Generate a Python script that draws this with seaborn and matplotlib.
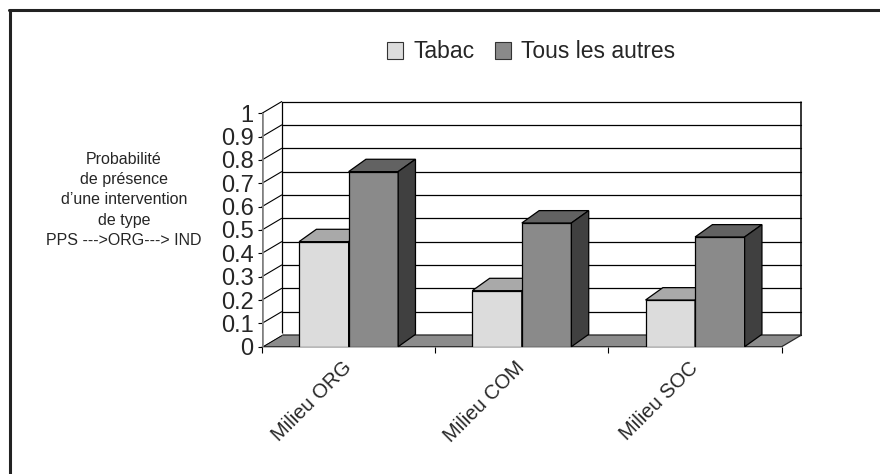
import matplotlib
matplotlib.use("Agg")
import matplotlib.pyplot as plt
from matplotlib.patches import Polygon, Patch
from matplotlib.lines import Line2D
import pandas as pd
import seaborn as sns

# ---- data -------------------------------------------------------------
categories = ["Milieu ORG", "Milieu COM", "Milieu SOC"]
series_names = ["Tabac", "Tous les autres"]
tabac = [0.45, 0.24, 0.20]
autres = [0.75, 0.53, 0.47]
y_ticks = [0, 0.1, 0.2, 0.3, 0.4, 0.5, 0.6, 0.7, 0.8, 0.9, 1.0]
y_tick_labels = ["0", "0.1", "0.2", "0.3", "0.4", "0.5", "0.6", "0.7", "0.8", "0.9", "1"]
y_label = "Probabilité\nde présence\nd’une intervention\nde type\nPPS --->ORG---> IND"

# ---- style ------------------------------------------------------------
sns.set_style("white")
plt.rcParams["font.family"] = ["Liberation Sans", "DejaVu Sans"]

front_colors = {"Tabac": "#dcdcdc", "Tous les autres": "#8a8a8a"}
top_colors = {"Tabac": "#a9a9a9", "Tous les autres": "#626262"}
side_colors = {"Tabac": "#b4b4b4", "Tous les autres": "#404040"}

W, H = 880, 474
fig = plt.figure(figsize=(W / 100, H / 100), dpi=100)
fig.patch.set_facecolor("white")

# plot area in pixels: front plane 262..781.7 / 346.7..113.3, back wall offset
x0p, x1p = 262.0, 801.4
y0p, y1p = 346.7, 101.6
ax = fig.add_axes([x0p / W, 1 - y0p / H, (x1p - x0p) / W, (y0p - y1p) / H])

df = pd.DataFrame({
    "Milieu": categories * 2,
    "Série": [series_names[0]] * len(categories) + [series_names[1]] * len(categories),
    "Valeur": tabac + autres,
})

sns.barplot(data=df, x="Milieu", y="Valeur", hue="Série", hue_order=series_names,
            palette=front_colors, width=0.572, edgecolor="black", linewidth=0.9,
            saturation=1, errorbar=None, legend=False, ax=ax)

# depth of the walls and of the columns (data units)
DXW, DYW = 0.1137, 0.050
DXB, DYB = 0.100, 0.053
xl, xr = -0.5, len(categories) - 0.5

ax.set_xlim(xl, xr + DXW)
ax.set_ylim(0, 1 + DYW)

# floor
ax.add_patch(Polygon([(xl, 0), (xr, 0), (xr + DXW, DYW), (xl + DXW, DYW)], closed=True,
                     facecolor="#8c8c8c", edgecolor="#2a2a2a", linewidth=0.9, zorder=1,
                     clip_on=False))

# back wall gridlines and side-wall diagonals
for v in y_ticks:
    ax.plot([xl + DXW, xr + DXW], [v + DYW, v + DYW], color="black", lw=0.9,
            zorder=0.5, clip_on=False)
    if v > 0:
        ax.plot([xl, xl + DXW], [v, v + DYW], color="black", lw=0.8, zorder=0.6,
                clip_on=False)
ax.plot([xl, xl + DXW], [0.004, DYW + 0.004], color="white", lw=1.6, zorder=1.5)
ax.plot([xl, xl + DXW], [-0.003, DYW - 0.003], color="black", lw=0.7, zorder=1.6)
ax.plot([xr + DXW, xr + DXW], [DYW, 1 + DYW], color="black", lw=1.1, zorder=0.6,
        clip_on=False)
ax.plot([xl + DXW, xl + DXW], [DYW, 1 + DYW], color="black", lw=0.9, zorder=0.6,
        clip_on=False)
ax.plot([xl, xl], [0, 1], color="#7f7f7f", lw=2.6, zorder=2, solid_capstyle="butt")

# 3-D faces of the columns
for k, (name, cont) in enumerate(zip(series_names, ax.containers)):
    z = 3 + k
    for bar in cont:
        bx, bw, bh = bar.get_x(), bar.get_width(), bar.get_height()
        bar.set_zorder(z)
        ax.add_patch(Polygon([(bx, bh), (bx + bw, bh), (bx + bw + DXB, bh + DYB),
                              (bx + DXB, bh + DYB)], closed=True,
                             facecolor=top_colors[name], edgecolor="black",
                             linewidth=0.9, zorder=z, clip_on=False))
        ax.add_patch(Polygon([(bx + bw, 0), (bx + bw + DXB, DYB),
                              (bx + bw + DXB, bh + DYB), (bx + bw, bh)], closed=True,
                             facecolor=side_colors[name], edgecolor="black",
                             linewidth=0.9, zorder=z, clip_on=False))

# axes, ticks, labels
for s in ax.spines.values():
    s.set_visible(False)
ax.grid(False)
ax.set_xlabel("")
ax.set_ylabel("")
ax.set_yticks(y_ticks, y_tick_labels)
ax.tick_params(axis="y", left=True, length=3, width=0.8, color="black", pad=3,
               labelsize=17)
ax.set_xticks(range(len(categories)), categories)
ax.set_xticks([xl + i for i in range(len(categories) + 1)], minor=True)
ax.tick_params(axis="x", which="major", bottom=False, length=0, pad=13, labelsize=14.5)
ax.tick_params(axis="x", which="minor", bottom=True, length=4.5, width=0.8,
               color="black")
for lab in ax.get_xticklabels():
    lab.set_rotation(45)
    lab.set_ha("right")
    lab.set_va("center")
    lab.set_rotation_mode("anchor")

fig.text(124 / W, 1 - 200 / H, y_label, ha="center", va="center", fontsize=11.5,
         linespacing=1.45)

handles = [Patch(facecolor=front_colors[n], edgecolor="#333333", linewidth=0.8, label=n)
           for n in series_names]
fig.legend(handles=handles, loc="center", bbox_to_anchor=(531 / W, 1 - 52 / H), ncol=2,
           frameon=False, fontsize=16.5, handlelength=0.72, handleheight=0.72,
           handletextpad=0.42, columnspacing=0.9)

# outer frame
fig.add_artist(Line2D([10 / W, 10 / W], [0, 1 - 10 / H], transform=fig.transFigure,
                      color="#222222", lw=2.2))
fig.add_artist(Line2D([9 / W, 1], [1 - 10 / H, 1 - 10 / H], transform=fig.transFigure,
                      color="#222222", lw=2.2))

fig.savefig("out.png", dpi=100, facecolor="white")
